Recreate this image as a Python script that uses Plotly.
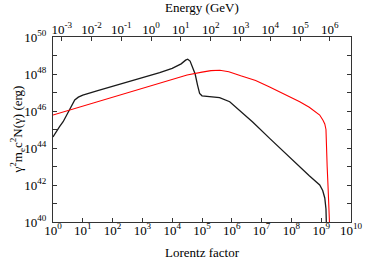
import numpy as np
import plotly.graph_objects as go

# values, as log10 (Lorentz factor) and log10 (erg)
black_lg = [0.0, 0.11, 0.22, 0.34, 0.45, 0.56, 0.65, 0.73, 0.85, 1.0, 1.5, 2.0, 2.5, 3.0,
            3.58, 4.0, 4.3, 4.45, 4.52, 4.6, 4.68, 4.77, 4.85, 4.92, 5.0, 5.3, 5.59,
            5.93, 6.26, 6.7, 7.27, 7.8, 8.28, 8.6, 8.95, 9.05, 9.12, 9.16, 9.18]
black_le = [44.6, 44.9, 45.15, 45.42, 45.75, 46.05, 46.35, 46.6, 46.75, 46.86, 47.1, 47.33,
            47.57, 47.8, 48.07, 48.3, 48.55, 48.75, 48.8, 48.7, 48.35, 48.0, 47.4, 46.95,
            46.82, 46.78, 46.72, 46.5, 46.05, 45.4, 44.52, 43.7, 43.0, 42.5, 42.0, 41.7,
            41.3, 40.7, 39.5]

red_lg = [0.0, 1.0, 2.0, 3.0, 4.0, 4.5, 5.0, 5.3, 5.6, 5.9, 6.3, 6.8, 7.27, 7.8, 8.28,
          8.6, 8.95, 9.06, 9.12, 9.16, 9.17, 9.2, 9.23, 9.26, 9.29]
red_le = [45.78, 46.26, 46.74, 47.22, 47.7, 47.95, 48.1, 48.18, 48.2, 48.12, 47.9, 47.65,
          47.3, 46.9, 46.5, 46.2, 45.78, 45.5, 45.3, 45.0, 44.0, 43.0, 41.9, 41.0, 39.5]

x_dec = list(range(0, 11))
y_dec = list(range(40, 51))
e_dec = list(range(-3, 7))
me_c2_gev = 0.511e-3

serif = "Liberation Serif, Times New Roman, serif"
tfont = dict(family=serif, size=13, color="black")
axcol = "#333"

fig = go.Figure()
fig.add_trace(go.Scatter(x=10 ** np.array(black_lg), y=10 ** np.array(black_le),
                         mode="lines", line=dict(color="#1a1a1a", width=1.3)))
fig.add_trace(go.Scatter(x=10 ** np.array(red_lg), y=10 ** np.array(red_le),
                         mode="lines", line=dict(color="#ff0000", width=1.1)))
# empty trace so the top energy axis gets drawn
fig.add_trace(go.Scatter(x=[], y=[], xaxis="x2", yaxis="y"))

fig.update_layout(
    width=374, height=262,
    margin=dict(l=53, r=23, t=37, b=40),
    paper_bgcolor="white", plot_bgcolor="white",
    showlegend=False,
    font=tfont,
    xaxis=dict(
        type="log", range=[0, 10], automargin=False,
        tickvals=[10 ** k for k in x_dec],
        ticktext=[f"10<sup>{k}</sup>" for k in x_dec],
        tickfont=tfont, ticklabelstandoff=-4,
        ticks="inside", ticklen=4, tickcolor=axcol,
        showline=True, linecolor=axcol, linewidth=1,
        showgrid=False, zeroline=False,
    ),
    xaxis2=dict(
        type="log", overlaying="x", side="top", anchor="y", automargin=False,
        range=[np.log10(me_c2_gev), 10 + np.log10(me_c2_gev)],
        tickvals=[10.0 ** k for k in e_dec],
        ticktext=[f"10<sup>{k}</sup>" for k in e_dec],
        tickfont=tfont, ticklabelstandoff=-3,
        ticks="inside", ticklen=4, tickcolor=axcol,
        showline=True, linecolor=axcol, linewidth=1,
        showgrid=False, zeroline=False,
    ),
    yaxis=dict(
        type="log", range=[40, 50], automargin=False,
        tickvals=[10.0 ** k for k in y_dec],
        ticktext=[f"10<sup>{k}</sup>" if k % 2 == 0 else "" for k in y_dec],
        tickfont=tfont,
        ticks="inside", ticklen=4, tickcolor=axcol, ticklabelstandoff=3,
        showline=True, linecolor=axcol, linewidth=1, mirror="ticks",
        showgrid=False, zeroline=False,
    ),
)

# axis titles
fig.add_annotation(text="Lorentz factor", xref="paper", yref="paper",
                   x=0.5, y=-0.165, xanchor="center", yanchor="middle",
                   showarrow=False, font=tfont)
fig.add_annotation(text="Energy (GeV)", xref="paper", yref="paper",
                   x=0.5, y=1.157, xanchor="center", yanchor="middle",
                   showarrow=False, font=tfont)
fig.add_annotation(text="γ<sup>2</sup>m<sub>e</sub>c<sup>2</sup>N(γ) (erg)",
                   xref="paper", yref="paper", x=-0.121, y=0.5, textangle=-90,
                   xanchor="center", yanchor="middle",
                   showarrow=False, font=tfont)

# page body has a default 8px margin; drop it so the figure sits at 0,0
fig.write_html("out.html", config={"displayModeBar": False},
               post_script="document.body.style.margin='0';")
